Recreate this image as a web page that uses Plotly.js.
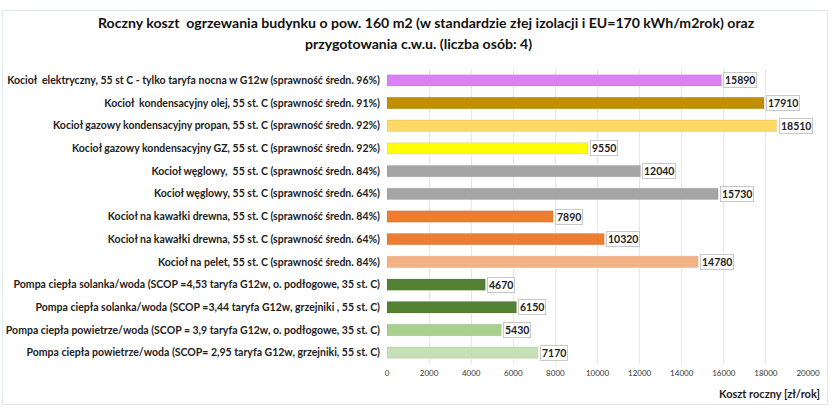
<!DOCTYPE html>
<html>
<head>
<meta charset="utf-8">
<script src="https://cdn.plot.ly/plotly-3.0.1.min.js"></script>
<style>
  body { margin: 0; background: #fff; }
  #wrap { position: relative; width: 835px; height: 412px; }
  #frame {
    position: absolute; left: 2px; top: 10px; width: 824px; height: 393px;
    border: 1px solid #dfe9f1; pointer-events: none;
  }
</style>
</head>
<body>
<div id="wrap">
  <div id="chart" style="width:835px;height:412px;"></div>
  <div id="frame"></div>
</div>
<script>
// Dane
const titleLines = [
  "Roczny koszt  ogrzewania budynku o pow. 160 m2 (w standardzie złej izolacji i EU=170 kWh/m2rok) oraz",
  "przygotowania c.w.u. (liczba osób: 4)",
];

const categories = [
  "Kocioł  elektryczny, 55 st C - tylko taryfa nocna w G12w (sprawność średn. 96%)",
  "Kocioł  kondensacyjny olej, 55 st. C (sprawność średn. 91%)",
  "Kocioł gazowy kondensacyjny propan, 55 st. C (sprawność średn. 92%)",
  "Kocioł gazowy kondensacyjny GZ, 55 st. C (sprawność średn. 92%)",
  "Kocioł węglowy,  55 st. C (sprawność średn. 84%)",
  "Kocioł węglowy, 55 st. C (sprawność średn. 64%)",
  "Kocioł na kawałki drewna, 55 st. C (sprawność średn. 84%)",
  "Kocioł na kawałki drewna, 55 st. C (sprawność średn. 64%)",
  "Kocioł na pelet, 55 st. C (sprawność średn. 84%)",
  "Pompa ciepła solanka/woda (SCOP =4,53 taryfa G12w, o. podłogowe, 35 st. C)",
  "Pompa ciepła solanka/woda (SCOP =3,44 taryfa G12w, grzejniki , 55 st. C)",
  "Pompa ciepła powietrze/woda (SCOP = 3,9 taryfa G12w, o. podłogowe, 35 st. C)",
  "Pompa ciepła powietrze/woda (SCOP= 2,95 taryfa G12w, grzejniki, 55 st. C)",
];

const costs = [15890, 17910, 18510, 9550, 12040, 15730, 7890, 10320, 14780, 4670, 6150, 5430, 7170];

const barColors = [
  "#da81f5", "#bf8f00", "#ffd966", "#ffff00", "#a5a5a5", "#a5a5a5", "#ed7d31",
  "#ed7d31", "#f4b183", "#548235", "#548235", "#a9d18e", "#c5e0b4",
];

const xTicks = [0, 2000, 4000, 6000, 8000, 10000, 12000, 14000, 16000, 18000, 20000];

const FONT = "Lato, 'Open Sans', sans-serif";

// Wykres
const trace = {
  type: "bar",
  orientation: "h",
  x: costs,
  y: categories,
  marker: { color: barColors, line: { color: "rgba(0,0,0,0.08)", width: 1 } },
  hoverinfo: "x+y",
};

// Etykiety wartości w ramkach
const valueLabels = costs.map((v, i) => ({
  x: v,
  y: categories[i],
  xref: "x",
  yref: "y",
  text: String(v),
  showarrow: false,
  xanchor: "left",
  xshift: 2,
  font: { family: FONT, size: 10.5, color: "#222", weight: "bold" },
  bgcolor: "#ffffff",
  bordercolor: "#c8c8c8",
  borderwidth: 1,
  borderpad: 1,
}));

// Tytuł jako dwie adnotacje (kontrola odstępu wierszy)
const titleAnnotations = titleLines.map((t, i) => ({
  text: t,
  xref: "paper",
  yref: "paper",
  x: i === 0 ? 0.095 : 0.075,
  y: i === 0 ? 1.159 : 1.085,
  xanchor: "center",
  yanchor: "middle",
  showarrow: false,
  font: { family: FONT, size: 14.1, color: "#111", weight: "bold" },
}));

const layout = {
  width: 835,
  height: 412,
  margin: { l: 387, r: 27, t: 69, b: 48 },
  paper_bgcolor: "rgba(0,0,0,0)",
  plot_bgcolor: "#ffffff",
  bargap: 0.5,
  showlegend: false,
  xaxis: {
    range: [0, 20000],
    tickvals: xTicks,
    ticktext: xTicks.map(String),
    showgrid: true,
    gridcolor: "#e8e8e8",
    zeroline: false,
    showline: false,
    ticks: "",
    ticklabelstandoff: 3,
    tickfont: { family: FONT, size: 8, color: "#333" },
    fixedrange: true,
  },
  yaxis: {
    autorange: "reversed",
    ticks: "",
    ticklabelstandoff: 6,
    showline: false,
    tickfont: { family: FONT, size: 10.5, color: "#222", weight: "bold" },
    fixedrange: true,
  },
  annotations: [
    ...titleAnnotations,
    ...valueLabels,
    {
      text: "Koszt roczny [zł/rok]",
      xref: "paper",
      yref: "paper",
      x: 1,
      y: 0,
      xanchor: "right",
      yanchor: "top",
      xshift: 14,
      yshift: -21,
      showarrow: false,
      font: { family: FONT, size: 11, color: "#222", weight: "bold" },
    },
  ],
};

Plotly.newPlot("chart", [trace], layout, { displayModeBar: false, responsive: false });
</script>
</body>
</html>
